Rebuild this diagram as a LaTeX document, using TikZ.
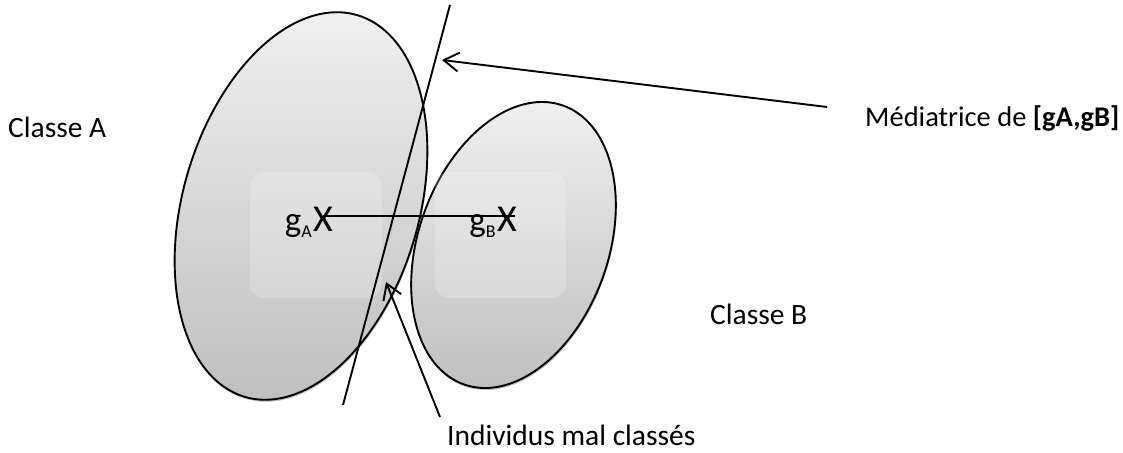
\documentclass[tikz,border=0pt]{standalone}
\usepackage{fontspec}
\setmainfont{Carlito}
\usetikzlibrary{arrows.meta,shadows}

\tikzset{
  outline/.style={line width=1.9pt, draw=black},
  classfill/.style={outline, top color=gray!12, bottom color=gray!50,
    drop shadow={shadow xshift=0.8pt, shadow yshift=-2pt, opacity=0.25, fill=black}},
  glow/.style={fill=white, opacity=0.2, rounded corners=14pt},
  lbl/.style={inner sep=0pt, anchor=base west, font=\fontsize{29.5}{30}\selectfont},
  xmark/.style={inner sep=0pt, anchor=base, font=\fontsize{38}{38}\selectfont},
  gname/.style={inner sep=0pt, anchor=base east, font=\fontsize{35}{35}\selectfont},
  pointer/.style={outline, -{Straight Barb[length=15pt, width=19pt, line width=1.9pt]}}
}

\newcommand{\subidx}[1]{\raisebox{-6pt}{\fontsize{18}{18}\selectfont #1}}

\begin{document}
\begin{tikzpicture}[x=1pt, y=1pt]
  \useasboundingbox (0,0) rectangle (1123,452);

  % class A: tilted ellipse centred at (301,246)
  \path[classfill] plot[domain=0:360, samples=120, smooth]
    ({301 + 199*cos(\x)*cos(73.6) - 118*sin(\x)*sin(73.6)},
     {246 + 199*cos(\x)*sin(73.6) + 118*sin(\x)*cos(73.6)}) -- cycle;
  \fill[glow] (250,154) rectangle (382,280);

  % class B: smaller tilted ellipse centred at (513.5,207)
  \path[classfill] plot[domain=0:360, samples=120, smooth]
    ({513.5 + 148*cos(\x)*cos(70.4) - 95*sin(\x)*sin(70.4)},
     {207 + 148*cos(\x)*sin(70.4) + 95*sin(\x)*cos(70.4)}) -- cycle;
  \fill[glow] (435,154) rectangle (566,280);

  % centres of gravity
  \node[xmark] (xa) at (323,220) {X};
  \node[gname] (ga) at ([xshift=-1pt]xa.base west) {g\subidx{A}};
  \node[xmark] (xb) at (507,220) {X};
  \node[gname] (gb) at ([xshift=-1pt]xb.base west) {g\subidx{B}};
  \coordinate (sa) at (323,236);
  \coordinate (sb) at (515,236);
  \draw[outline] (sa) -- (sb);

  % perpendicular bisector
  \coordinate (m1) at (450,447);
  \coordinate (m2) at (343,47);
  \draw[outline] (m1) -- (m2);

  % labels
  \node[lbl] (ca) at (8,314) {Classe A};
  \node[lbl] (cb) at (710,127) {Classe B};
  \node[lbl, font=\fontsize{28.5}{29}\selectfont] (med) at (865,325) {Médiatrice de \textbf{[gA,gB]}};
  \node[lbl] (ind) at (447,7) {Individus mal classés};

  % pointers
  \coordinate (medtail) at (827,345);
  \coordinate (medtip) at (442,392);
  \draw[pointer] (medtail) -- (medtip);
  \coordinate (indtail) at (440,35);
  \coordinate (indtip) at (386,170);
  \draw[pointer] (indtail) -- (indtip);
\end{tikzpicture}
\end{document}
